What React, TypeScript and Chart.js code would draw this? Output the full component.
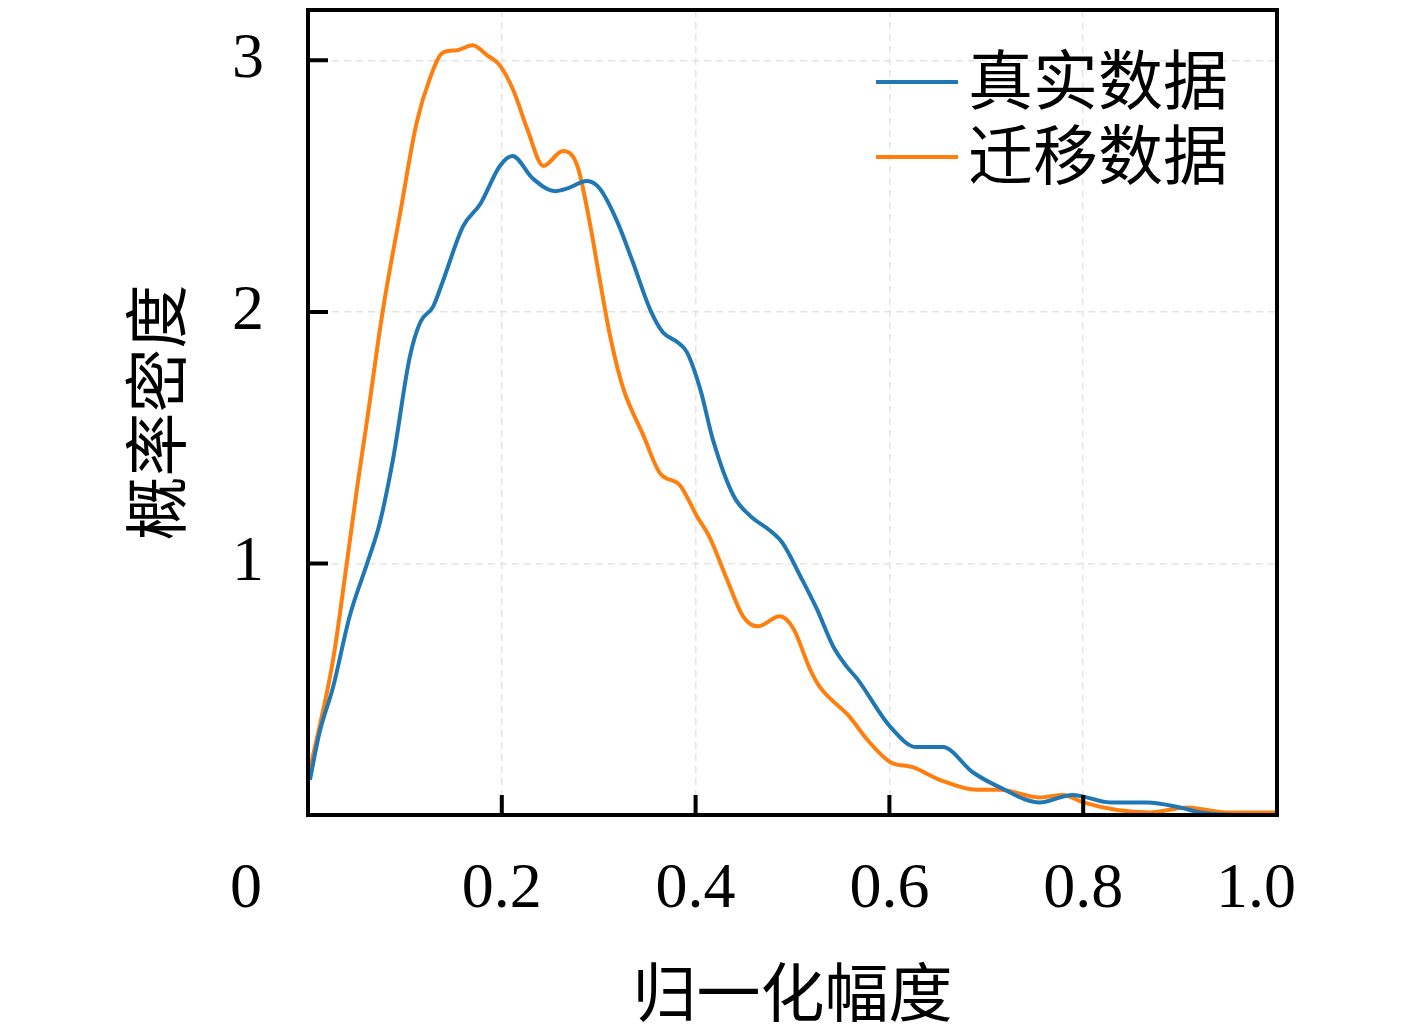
import { useEffect, useRef } from "react";
import { Chart, registerables, type Plugin, type ChartConfiguration } from "chart.js";

Chart.register(...registerables);

const WIDTH = 1417;
const HEIGHT = 1030;

const xTicks = [0, 0.2, 0.4, 0.6, 0.8, 1.0];
const xTickLabels = ["", "0.2", "0.4", "0.6", "0.8", "1.0"];
const yTicks = [0, 1, 2, 3];
const seriesNames = ["真实数据", "迁移数据"];
const seriesColors = ["#1f77b4", "#ff7f0e"];
const xTitle = "归一化幅度";
const yTitle = "概率密度";

// 真实数据 (blue)
const realX = [
  0.002, 0.012, 0.026, 0.043, 0.061, 0.074, 0.088, 0.105, 0.116, 0.129, 0.139, 0.16, 0.178, 0.198,
  0.211, 0.232, 0.255, 0.267, 0.288, 0.301, 0.319, 0.335, 0.353, 0.366, 0.381, 0.391, 0.405, 0.418,
  0.439, 0.456, 0.477, 0.49, 0.508, 0.525, 0.542, 0.556, 0.567, 0.601, 0.628, 0.655, 0.686, 0.714,
  0.755, 0.789, 0.828, 0.866, 0.9, 0.921, 0.962, 1.0,
];
const realY = [
  0.14, 0.33, 0.51, 0.79, 1.0, 1.16, 1.42, 1.82, 1.96, 2.02, 2.12, 2.34, 2.43, 2.58,
  2.62, 2.53, 2.48, 2.49, 2.52, 2.49, 2.36, 2.2, 2.01, 1.92, 1.88, 1.84, 1.69, 1.49,
  1.27, 1.19, 1.13, 1.08, 0.95, 0.82, 0.67, 0.59, 0.54, 0.35, 0.27, 0.27, 0.17, 0.11,
  0.05, 0.08, 0.05, 0.05, 0.03, 0.01, 0.0, 0.0,
];

// 迁移数据 (orange)
const transferX = [
  0.002, 0.026, 0.04, 0.051, 0.061, 0.077, 0.095, 0.112, 0.126, 0.139, 0.154, 0.17, 0.185, 0.198,
  0.212, 0.226, 0.243, 0.263, 0.278, 0.291, 0.301, 0.312, 0.325, 0.346, 0.363, 0.384, 0.401, 0.415,
  0.432, 0.449, 0.464, 0.487, 0.501, 0.518, 0.528, 0.559, 0.577, 0.601, 0.624, 0.652, 0.69, 0.714,
  0.755, 0.779, 0.8, 0.835, 0.869, 0.907, 0.948, 1.0,
];
const transferY = [
  0.18, 0.62, 1.0, 1.31, 1.57, 2.0, 2.39, 2.75, 2.93, 3.03, 3.04, 3.06, 3.02, 2.98,
  2.88, 2.73, 2.58, 2.64, 2.58, 2.35, 2.13, 1.9, 1.7, 1.51, 1.36, 1.31, 1.19, 1.1,
  0.94, 0.79, 0.75, 0.79, 0.74, 0.58, 0.51, 0.39, 0.3, 0.21, 0.19, 0.14, 0.1, 0.1,
  0.07, 0.08, 0.05, 0.02, 0.01, 0.03, 0.01, 0.01,
];

const SERIF = "'Liberation Serif', 'DejaVu Serif', serif";
const CJK = "'Noto Sans CJK SC', sans-serif";

// inward ticks, frame, x tick labels, shared origin label, legend
const decorations: Plugin<"line"> = {
  id: "decorations",
  afterDraw(chart) {
    const { ctx, chartArea: a, scales } = chart;
    const x = scales.x;
    const y = scales.y;
    ctx.save();
    ctx.strokeStyle = "#000";
    ctx.lineWidth = 4;
    ctx.lineCap = "butt";
    ctx.beginPath();
    xTicks.forEach((v) => {
      const px = x.getPixelForValue(v);
      ctx.moveTo(px, a.bottom);
      ctx.lineTo(px, a.bottom - 20);
    });
    yTicks.forEach((v) => {
      const py = y.getPixelForValue(v);
      ctx.moveTo(a.left, py);
      ctx.lineTo(a.left + 20, py);
    });
    ctx.stroke();
    ctx.strokeRect(a.left, a.top, a.right - a.left, a.bottom - a.top);

    ctx.fillStyle = "#000";
    ctx.font = `64px ${SERIF}`;
    ctx.textAlign = "center";
    ctx.textBaseline = "middle";
    ctx.fillText("0", a.left - 62, a.bottom + 75);
    xTicks.forEach((v, i) => {
      const px = x.getPixelForValue(v);
      const shift = i === xTicks.length - 1 ? -21 : 0;
      ctx.fillText(xTickLabels[i], px + shift, a.bottom + 75);
    });

    ctx.font = `65px ${CJK}`;
    ctx.textAlign = "left";
    chart.data.datasets.forEach((ds, i) => {
      const ly = 82 + i * 75;
      ctx.strokeStyle = ds.borderColor as string;
      ctx.lineWidth = 4;
      ctx.beginPath();
      ctx.moveTo(876, ly);
      ctx.lineTo(958, ly);
      ctx.stroke();
      ctx.fillStyle = "#000";
      ctx.fillText(ds.label ?? "", 968, ly - 3);
    });
    ctx.restore();
  },
};

export default function App() {
  const canvasRef = useRef<HTMLCanvasElement>(null);

  useEffect(() => {
    if (!canvasRef.current) return;
    document.body.style.margin = "0";

    const config: ChartConfiguration<"line"> = {
      type: "line",
      data: {
        datasets: [
          {
            label: seriesNames[0],
            data: realX.map((v, i) => ({ x: v, y: realY[i] })),
            borderColor: seriesColors[0],
            borderWidth: 4,
            pointRadius: 0,
            cubicInterpolationMode: "monotone",
          },
          {
            label: seriesNames[1],
            data: transferX.map((v, i) => ({ x: v, y: transferY[i] })),
            borderColor: seriesColors[1],
            borderWidth: 4,
            pointRadius: 0,
            cubicInterpolationMode: "monotone",
          },
        ],
      },
      options: {
        responsive: false,
        animation: false,
        layout: { padding: { top: 10, right: 140, left: 0, bottom: 0 } },
        plugins: { legend: { display: false }, tooltip: { enabled: false } },
        scales: {
          x: {
            type: "linear",
            min: 0,
            max: 1,
            afterBuildTicks: (s) => {
              s.ticks = xTicks.map((v) => ({ value: v }));
            },
            afterFit: (s) => {
              s.height = 215;
              s.paddingLeft = 0;
              s.paddingRight = 0;
            },
            ticks: {
              color: "#000",
              font: { family: SERIF, size: 64 },
              padding: 40,
              maxRotation: 0,
              autoSkip: false,
              callback: () => "",
            },
            grid: { color: "#e4e4e4", lineWidth: 1.5, drawTicks: false },
            border: { display: false, dash: [7, 5] },
            title: {
              display: true,
              text: xTitle,
              color: "#000",
              font: { family: CJK, size: 64 },
              padding: { top: 0, bottom: 0 },
            },
          },
          y: {
            type: "linear",
            min: 0,
            max: 3.2,
            afterBuildTicks: (s) => {
              s.ticks = yTicks.map((v) => ({ value: v }));
            },
            afterFit: (s) => {
              s.width = 308;
              s.paddingTop = 0;
              s.paddingBottom = 0;
            },
            ticks: {
              color: "#000",
              font: { family: SERIF, size: 64 },
              padding: 44,
              callback: (v) => (Number(v) === 0 ? "" : String(v)),
            },
            grid: { color: "#e4e4e4", lineWidth: 1.5, drawTicks: false },
            border: { display: false, dash: [7, 5] },
            title: {
              display: true,
              text: yTitle,
              color: "#000",
              font: { family: CJK, size: 64 },
              padding: { top: 117, bottom: 0 },
            },
          },
        },
      },
      plugins: [decorations],
    };

    const chart = new Chart(canvasRef.current, config);
    return () => chart.destroy();
  }, []);

  return (
    <div style={{ position: "absolute", left: 0, top: 0, width: WIDTH, height: HEIGHT, background: "#fff" }}>
      <canvas ref={canvasRef} width={WIDTH} height={HEIGHT} />
    </div>
  );
}
